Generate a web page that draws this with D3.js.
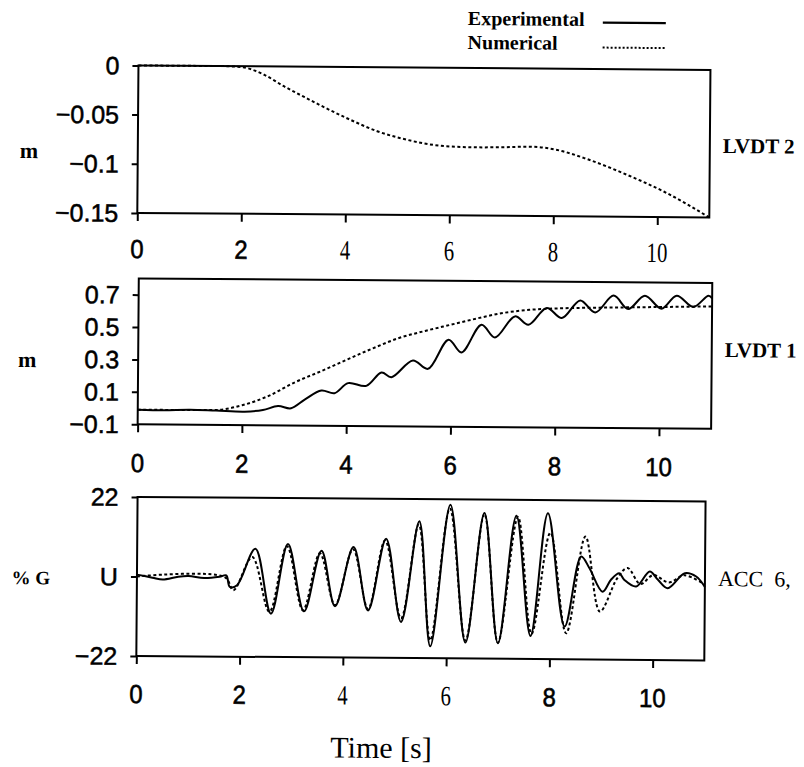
<!DOCTYPE html>
<html>
<head>
<meta charset="utf-8">
<script src="https://cdn.jsdelivr.net/npm/d3@7"></script>
<style>
  body { margin: 0; background: #fff; }
</style>
</head>
<body>
<svg id="chart" width="804" height="767"></svg>
<script>
// ---- data ----
const timeTicks = [0, 2, 4, 6, 8, 10];

// LVDT 2 (numerical only)
const lvdt2Time = [0, 1, 1.6, 2, 2.4, 2.8, 3.2, 3.5, 4.1, 4.6, 5.06, 5.5, 6.02, 6.53, 7.0, 7.56, 8.07, 8.65, 9.42, 10.12, 11];
const lvdt2Numerical = [0, 0, 0, -0.001, -0.008, -0.02, -0.031, -0.039, -0.054, -0.065, -0.072, -0.077, -0.08, -0.0806, -0.0803, -0.0795, -0.0827, -0.0918, -0.1075, -0.124, -0.15];
const lvdt2Ticks = [0, -0.05, -0.1, -0.15];
const lvdt2TickLabels = ["0", "\u22120.05", "\u22120.1", "\u22120.15"];

// LVDT 1
const lvdt1NumTime = [0, 0.5, 1, 1.5, 2, 2.5, 3, 3.5, 4, 4.5, 5, 5.5, 6, 6.5, 7, 7.5, 8, 8.5, 9, 9.5, 10, 10.5, 11];
const lvdt1Numerical = [-0.01, -0.01, -0.01, -0.008, 0.022, 0.08, 0.165, 0.235, 0.308, 0.38, 0.445, 0.49, 0.53, 0.57, 0.605, 0.625, 0.635, 0.64, 0.643, 0.646, 0.649, 0.652, 0.655];
const lvdt1ExpTime = [0, 0.5, 1, 1.5, 2.05, 2.4, 2.69, 2.94, 3.2, 3.52, 3.77, 4.03, 4.38, 4.67, 4.86, 5.27, 5.56, 5.95, 6.2, 6.58, 6.84, 7.22, 7.48, 7.83, 8.12, 8.47, 8.76, 9.11, 9.39, 9.71, 10.03, 10.32, 10.64, 10.93, 11];
const lvdt1Experimental = [-0.01, -0.012, -0.008, -0.012, -0.017, -0.006, 0.019, 0.006, 0.06, 0.117, 0.101, 0.164, 0.148, 0.231, 0.203, 0.307, 0.256, 0.437, 0.359, 0.531, 0.453, 0.584, 0.533, 0.638, 0.576, 0.686, 0.612, 0.717, 0.635, 0.718, 0.639, 0.72, 0.651, 0.721, 0.705];
const lvdt1Ticks = [-0.1, 0.1, 0.3, 0.5, 0.7];
const lvdt1TickLabels = ["\u22120.1", "0.1", "0.3", "0.5", "0.7"];

// ACC 6 (% G)
const accExpTime = [0, 0.3, 0.5, 0.8, 1.0, 1.3, 1.6, 1.73, 1.8, 1.94, 2.29, 2.6, 2.92, 3.24, 3.57, 3.84, 4.19, 4.48, 4.82, 5.12, 5.46, 5.69, 6.06, 6.37, 6.72, 7.0, 7.34, 7.63, 7.95, 8.29, 8.6, 8.76, 9.02, 9.18, 9.34, 9.44, 9.67, 9.93, 10.09, 10.28, 10.61, 10.83, 11];
const accExperimental = [0.5, -0.3, -0.8, 0, 0.2, -0.3, 0.1, 0.5, -2.7, -2.2, 7.9, -10, 9.3, -9.3, 7.5, -7.8, 8.6, -8.9, 11, -12, 15.9, -18.7, 20.5, -17.6, 18.3, -17.7, 17.6, -15.6, 18.4, -12.9, 6.5, 3.3, -3.2, 0.1, 1.9, 0.1, -1.7, 2.5, 0.2, -2.1, 2.1, 1.2, -1.7];
const accNumTime = [0, 1.7, 1.87, 2.23, 2.57, 2.9, 3.22, 3.54, 3.84, 4.18, 4.48, 4.8, 5.12, 5.45, 5.69, 6.05, 6.37, 6.72, 7.0, 7.37, 7.65, 8.0, 8.32, 8.68, 8.97, 9.3, 9.5, 9.75, 10.0, 10.3, 10.6, 11];
const accNumerical = [0, 0, -3.6, 5.6, -9.5, 8.7, -9, 6.8, -7.5, 8, -8.5, 10.5, -11, 15, -17, 19.5, -17, 18, -17.5, 17.3, -15, 13, -14.8, 12, -8.7, 0.5, 3.4, -1, 1.5, -0.5, 1.5, -1];
const accTicks = [-22, 0, 22];
const accTickLabels = ["\u221222", "U", "22"];

// ---- drawing ----
const SANS = "'Liberation Sans', Arial, sans-serif";
const SERIF = "'Liberation Serif', 'Times New Roman', serif";

const svg = d3.select("#chart");
// the scanned page is slightly rotated
const root = svg.append("g").attr("transform", "rotate(0.45,400,380)");

const panels = [
  { x0: 136, x1: 708, y0: 67.5, y1: 215, yDomain: [-0.15, 0],
    ticks: lvdt2Ticks, tickLabels: lvdt2TickLabels, xLabelY: 260,
    xFonts: ["s", "s", "r", "r", "r", "r"],
    series: [{ t: lvdt2Time, v: lvdt2Numerical, dashed: true, curve: d3.curveMonotoneX }],
    yTitle: "m", yTitleY: 161, name: "LVDT 2", nameY: 150.5, nameBold: true },
  { x0: 138, x1: 711.5, y0: 280.5, y1: 426.3, yDomain: [-0.1, 0.8],
    ticks: lvdt1Ticks, tickLabels: lvdt1TickLabels, xLabelY: 474,
    xFonts: ["s", "s", "s", "s", "s", "s"],
    series: [{ t: lvdt1NumTime, v: lvdt1Numerical, dashed: true, curve: d3.curveMonotoneX },
             { t: lvdt1ExpTime, v: lvdt1Experimental, dashed: false, curve: d3.curveCatmullRom }],
    yTitle: "m", yTitleY: 370, name: "LVDT 1", nameY: 354.5, nameBold: true },
  { x0: 138.5, x1: 706.5, y0: 499, y1: 658, yDomain: [-22, 22],
    ticks: accTicks, tickLabels: accTickLabels, xLabelY: 705,
    xFonts: ["s", "s", "r", "r", "s", "s"],
    series: [{ t: accNumTime, v: accNumerical, dashed: true, curve: d3.curveCatmullRom },
             { t: accExpTime, v: accExperimental, dashed: false, curve: d3.curveCatmullRom }],
    yTitle: "% G", yTitleY: 587, name: "ACC\u00a0\u00a06,", nameY: 583.5, nameBold: false }
];

panels.forEach(p => {
  const x = d3.scaleLinear().domain([0, 11]).range([p.x0, p.x1]);
  const y = d3.scaleLinear().domain(p.yDomain).range([p.y1, p.y0]);
  const g = root.append("g");

  // ticks only, labels are placed by hand below
  const gx = g.append("g")
    .attr("transform", `translate(0,${p.y1})`)
    .call(d3.axisBottom(x).tickValues(timeTicks).tickSize(8).tickFormat(""));
  gx.select(".domain").remove();
  gx.selectAll("line").attr("stroke", "#000").attr("stroke-width", 2);

  const gy = g.append("g")
    .attr("transform", `translate(${p.x0},0)`)
    .call(d3.axisLeft(y).tickValues(p.ticks).tickSize(6).tickFormat(""));
  gy.select(".domain").remove();
  gy.selectAll("line").attr("stroke", "#000").attr("stroke-width", 2);

  g.append("rect")
    .attr("x", p.x0).attr("y", p.y0)
    .attr("width", p.x1 - p.x0).attr("height", p.y1 - p.y0)
    .attr("fill", "none").attr("stroke", "#000").attr("stroke-width", 2);

  // y tick labels
  g.selectAll(".ylab")
    .data(p.ticks)
    .enter()
    .append("text")
    .attr("class", "ylab")
    .attr("x", p.x0 - 19)
    .attr("y", d => y(d))
    .attr("dy", "0.36em")
    .attr("text-anchor", "end")
    .attr("font-family", SANS)
    .attr("font-size", 25)
    .attr("stroke", "#000").attr("stroke-width", 0.5)
    .text((d, i) => p.tickLabels[i]);

  // x tick labels, the scan mixes two typefaces
  timeTicks.forEach((t, i) => {
    const serif = p.xFonts[i] === "r";
    g.append("text")
      .attr("transform", `translate(${x(t)},${p.xLabelY}) scale(${serif ? 0.74 : 0.92},1)`)
      .attr("text-anchor", "middle")
      .attr("font-family", serif ? SERIF : SANS)
      .attr("font-size", serif ? 28 : 26)
      .attr("stroke", serif ? "none" : "#000").attr("stroke-width", 0.6)
      .text(t);
  });

  p.series.forEach(s => {
    const line = d3.line()
      .x((d, i) => x(s.t[i]))
      .y(d => y(d))
      .curve(s.curve);
    g.append("path")
      .attr("d", line(s.v))
      .attr("fill", "none")
      .attr("stroke", "#000")
      .attr("stroke-width", 2)
      .attr("stroke-dasharray", s.dashed ? "3,2.5" : null);
  });

  g.append("text")
    .attr("x", p.yTitle === "m" ? 18 : 13)
    .attr("y", p.yTitleY)
    .attr("font-family", SERIF)
    .attr("font-weight", "bold")
    .attr("font-size", p.yTitle === "m" ? 22 : 19)
    .text(p.yTitle);

  g.append("text")
    .attr("x", p.x1 + 13)
    .attr("y", p.nameY)
    .attr("font-family", SERIF)
    .attr("font-weight", p.nameBold ? "bold" : "normal")
    .attr("font-size", p.nameBold ? 21 : 22)
    .text(p.name);
});

// legend
const legend = root.append("g");
legend.append("text").attr("x", 465).attr("y", 24.5)
  .attr("font-family", SERIF).attr("font-weight", "bold").attr("font-size", 20)
  .text("Experimental");
legend.append("text").attr("x", 465).attr("y", 48.5)
  .attr("font-family", SERIF).attr("font-weight", "bold").attr("font-size", 20)
  .text("Numerical");
legend.append("line").attr("x1", 600).attr("x2", 663).attr("y1", 21).attr("y2", 21)
  .attr("stroke", "#000").attr("stroke-width", 2.2);
legend.append("line").attr("x1", 600).attr("x2", 663).attr("y1", 46).attr("y2", 46)
  .attr("stroke", "#000").attr("stroke-width", 2).attr("stroke-dasharray", "2,2");

// x axis title
root.append("text")
  .attr("x", 384).attr("y", 758)
  .attr("text-anchor", "middle")
  .attr("font-family", SERIF)
  .attr("font-size", 30)
  .text("Time [s]");
</script>
</body>
</html>
